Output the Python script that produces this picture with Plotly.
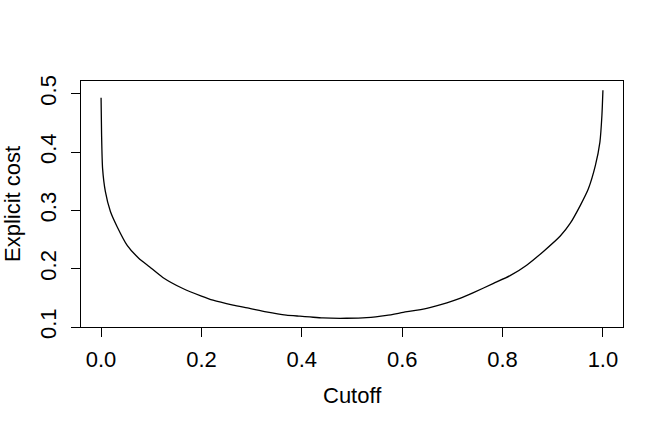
import plotly.graph_objects as go

cutoff = [0, 0.001, 0.003, 0.0086, 0.0186, 0.032, 0.052, 0.075, 0.0964, 0.123, 0.163,
          0.2, 0.223, 0.263, 0.296, 0.329, 0.369, 0.396, 0.416, 0.442, 0.489, 0.529,
          0.569, 0.602, 0.649, 0.689, 0.715, 0.742, 0.782, 0.815, 0.848, 0.882, 0.915,
          0.935, 0.955, 0.971, 0.985, 0.994, 0.998, 1.0]
explicit_cost = [0.493, 0.43, 0.372, 0.332, 0.298, 0.272, 0.240, 0.218, 0.2033, 0.185, 0.166,
                 0.153, 0.146, 0.1376, 0.132, 0.126, 0.1204, 0.1185, 0.1172, 0.1155, 0.1150, 0.1160,
                 0.1200, 0.1250, 0.132, 0.1415, 0.149, 0.159, 0.1748, 0.188, 0.206, 0.230, 0.256,
                 0.278, 0.3086, 0.337, 0.377, 0.417, 0.463, 0.506]
x_ticks = [0.0, 0.2, 0.4, 0.6, 0.8, 1.0]
x_tick_labels = ["0.0", "0.2", "0.4", "0.6", "0.8", "1.0"]
y_ticks = [0.1, 0.2, 0.3, 0.4, 0.5]
y_tick_labels = ["0.1", "0.2", "0.3", "0.4", "0.5"]

FONT = "Liberation Sans, Arial, sans-serif"
FS = 22

fig = go.Figure()
fig.add_trace(go.Scatter(x=cutoff, y=explicit_cost, mode="lines",
                         line=dict(color="black", width=1.3, shape="spline", smoothing=0.6),
                         showlegend=False, hoverinfo="skip"))

fig.update_layout(
    width=664, height=429,
    margin=dict(l=81, r=41, t=81, b=102),
    paper_bgcolor="white", plot_bgcolor="white",
    font=dict(family=FONT, size=FS, color="black"),
    xaxis=dict(range=[-0.04, 1.04], tickvals=x_ticks, ticktext=x_tick_labels,
               ticks="outside", ticklen=9, tickwidth=1, tickcolor="black",
               showline=True, linecolor="black", linewidth=1, mirror=True,
               showgrid=False, zeroline=False, ticklabelstandoff=4,
               tickfont=dict(family=FONT, size=FS)),
    yaxis=dict(range=[0.1, 0.5218], tickvals=y_ticks, ticktext=y_tick_labels,
               ticks="outside", ticklen=9, tickwidth=1, tickcolor="black",
               showline=True, linecolor="black", linewidth=1, mirror=True,
               showgrid=False, zeroline=False, tickangle=-90, ticklabelstandoff=6,
               tickfont=dict(family=FONT, size=FS)),
    annotations=[
        dict(text="Cutoff", xref="paper", yref="paper", x=0.5, y=0, xanchor="center",
             yanchor="middle", yshift=-68, showarrow=False,
             font=dict(family=FONT, size=FS)),
        dict(text="Explicit cost", xref="paper", yref="paper", x=0, y=0.5, xanchor="center",
             yanchor="middle", xshift=-69, textangle=-90, showarrow=False,
             font=dict(family=FONT, size=FS)),
    ],
)

fig.write_html("out.html", config={"displayModeBar": False},
               post_script="document.body.style.margin='0';")
